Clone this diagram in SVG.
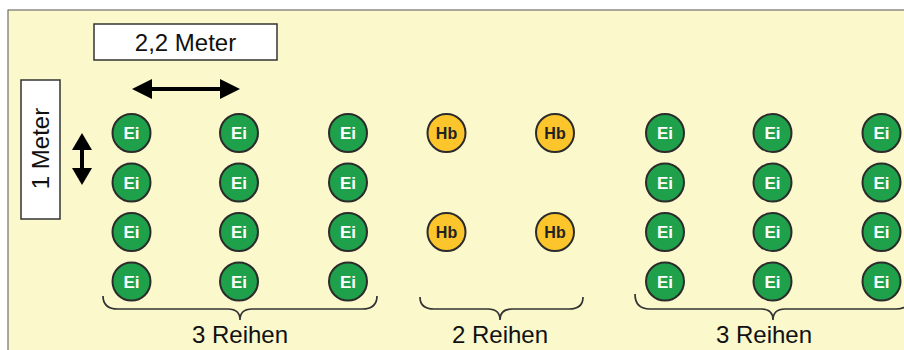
<svg xmlns="http://www.w3.org/2000/svg" width="904" height="350" viewBox="0 0 904 350">
  <defs>
    <style>
      .lbl { font-family: "Liberation Sans", Arial, sans-serif; font-size: 24px; fill: #111; text-anchor: middle; }
      .box { fill: #ffffff; stroke: #333; stroke-width: 1.5; }
      .ei circle { fill: #1fa04a; stroke: #2b2b2b; stroke-width: 2; }
      .ei text { font-family: "Liberation Sans", Arial, sans-serif; font-weight: bold; font-size: 17px; fill: #ffffff; text-anchor: middle; }
      .hb circle { fill: #fbc52b; stroke: #2b2b2b; stroke-width: 2; }
      .hb text { font-family: "Liberation Sans", Arial, sans-serif; font-weight: bold; font-size: 16px; fill: #222; text-anchor: middle; }
      .brace { fill: none; stroke: #333; stroke-width: 1.7; }
      .dim { stroke: #000; stroke-width: 4; fill: none; }
    </style>
  </defs>

  <!-- page and panel -->
  <rect x="0" y="0" width="904" height="350" fill="#ffffff"/>
  <rect x="8" y="10" width="900" height="345" fill="#fbf8cc" stroke="#555" stroke-width="1"/>

  <!-- dimension labels -->
  <g id="label-width">
    <rect class="box" x="94" y="24" width="183" height="36"/>
    <text class="lbl" x="185.5" y="51">2,2 Meter</text>
  </g>
  <g id="label-height">
    <rect class="box" x="21" y="80" width="39" height="139"/>
    <text class="lbl" x="0" y="0" transform="translate(49,148.5) rotate(-90)">1 Meter</text>
  </g>

  <!-- dimension arrows and braces -->
  <g id="connectors">
    <g id="arrow-width">
      <line class="dim" x1="148" y1="89" x2="223" y2="89"/>
      <polygon points="132,89 152,79 152,99" fill="#000"/>
      <polygon points="240,89 220,79 220,99" fill="#000"/>
    </g>
    <g id="arrow-height">
      <line class="dim" x1="82" y1="146" x2="82" y2="171"/>
      <polygon points="82,133 72,150 92,150" fill="#000"/>
      <polygon points="82,185 72,168 92,168" fill="#000"/>
    </g>
    <path id="brace-left" class="brace" d="M103,296 Q103,309 118,309 L228,309 Q240,309 240,320 Q240,309 252,309 L362,309 Q377,309 377,296"/>
    <path id="brace-mid" class="brace" d="M420,297 Q420,309 434,309 L488,309 Q500,309 500,320 Q500,309 512,309 L569,309 Q583,309 583,297"/>
    <path id="brace-right" class="brace" d="M635,294 Q635,309 650,309 L761,309 Q773,309 773,320 Q773,309 785,309 L896,309 Q911,309 911,294"/>
  </g>

  <!-- left block: 3 rows of Ei -->
  <g id="ei-left" class="ei">
    <g id="ei-l-1-1"><circle cx="131.5" cy="133" r="19"/><text x="131.5" y="139">Ei</text></g>
    <g id="ei-l-1-2"><circle cx="239" cy="133" r="19"/><text x="239" y="139">Ei</text></g>
    <g id="ei-l-1-3"><circle cx="348" cy="133" r="19"/><text x="348" y="139">Ei</text></g>
    <g id="ei-l-2-1"><circle cx="131.5" cy="182.5" r="19"/><text x="131.5" y="188.5">Ei</text></g>
    <g id="ei-l-2-2"><circle cx="239" cy="182.5" r="19"/><text x="239" y="188.5">Ei</text></g>
    <g id="ei-l-2-3"><circle cx="348" cy="182.5" r="19"/><text x="348" y="188.5">Ei</text></g>
    <g id="ei-l-3-1"><circle cx="131.5" cy="232" r="19"/><text x="131.5" y="238">Ei</text></g>
    <g id="ei-l-3-2"><circle cx="239" cy="232" r="19"/><text x="239" y="238">Ei</text></g>
    <g id="ei-l-3-3"><circle cx="348" cy="232" r="19"/><text x="348" y="238">Ei</text></g>
    <g id="ei-l-4-1"><circle cx="131.5" cy="281.5" r="19"/><text x="131.5" y="287.5">Ei</text></g>
    <g id="ei-l-4-2"><circle cx="239" cy="281.5" r="19"/><text x="239" y="287.5">Ei</text></g>
    <g id="ei-l-4-3"><circle cx="348" cy="281.5" r="19"/><text x="348" y="287.5">Ei</text></g>
  </g>

  <!-- middle block: 2 rows of Hb -->
  <g id="hb-mid" class="hb">
    <g id="hb-1-1"><circle cx="446.5" cy="133" r="19"/><text x="446.5" y="138.5">Hb</text></g>
    <g id="hb-1-2"><circle cx="555" cy="133" r="19"/><text x="555" y="138.5">Hb</text></g>
    <g id="hb-2-1"><circle cx="446.5" cy="232" r="19"/><text x="446.5" y="237.5">Hb</text></g>
    <g id="hb-2-2"><circle cx="555" cy="232" r="19"/><text x="555" y="237.5">Hb</text></g>
  </g>

  <!-- right block: 3 rows of Ei -->
  <g id="ei-right" class="ei">
    <g id="ei-r-1-1"><circle cx="665" cy="133" r="19"/><text x="665" y="139">Ei</text></g>
    <g id="ei-r-1-2"><circle cx="772.5" cy="133" r="19"/><text x="772.5" y="139">Ei</text></g>
    <g id="ei-r-1-3"><circle cx="881.5" cy="133" r="19"/><text x="881.5" y="139">Ei</text></g>
    <g id="ei-r-2-1"><circle cx="665" cy="182.5" r="19"/><text x="665" y="188.5">Ei</text></g>
    <g id="ei-r-2-2"><circle cx="772.5" cy="182.5" r="19"/><text x="772.5" y="188.5">Ei</text></g>
    <g id="ei-r-2-3"><circle cx="881.5" cy="182.5" r="19"/><text x="881.5" y="188.5">Ei</text></g>
    <g id="ei-r-3-1"><circle cx="665" cy="232" r="19"/><text x="665" y="238">Ei</text></g>
    <g id="ei-r-3-2"><circle cx="772.5" cy="232" r="19"/><text x="772.5" y="238">Ei</text></g>
    <g id="ei-r-3-3"><circle cx="881.5" cy="232" r="19"/><text x="881.5" y="238">Ei</text></g>
    <g id="ei-r-4-1"><circle cx="665" cy="281.5" r="19"/><text x="665" y="287.5">Ei</text></g>
    <g id="ei-r-4-2"><circle cx="772.5" cy="281.5" r="19"/><text x="772.5" y="287.5">Ei</text></g>
    <g id="ei-r-4-3"><circle cx="881.5" cy="281.5" r="19"/><text x="881.5" y="287.5">Ei</text></g>
  </g>

  <!-- group captions -->
  <g id="captions">
    <text class="lbl" x="240" y="343">3 Reihen</text>
    <text class="lbl" x="500" y="343">2 Reihen</text>
    <text class="lbl" x="764" y="343">3 Reihen</text>
  </g>
</svg>
